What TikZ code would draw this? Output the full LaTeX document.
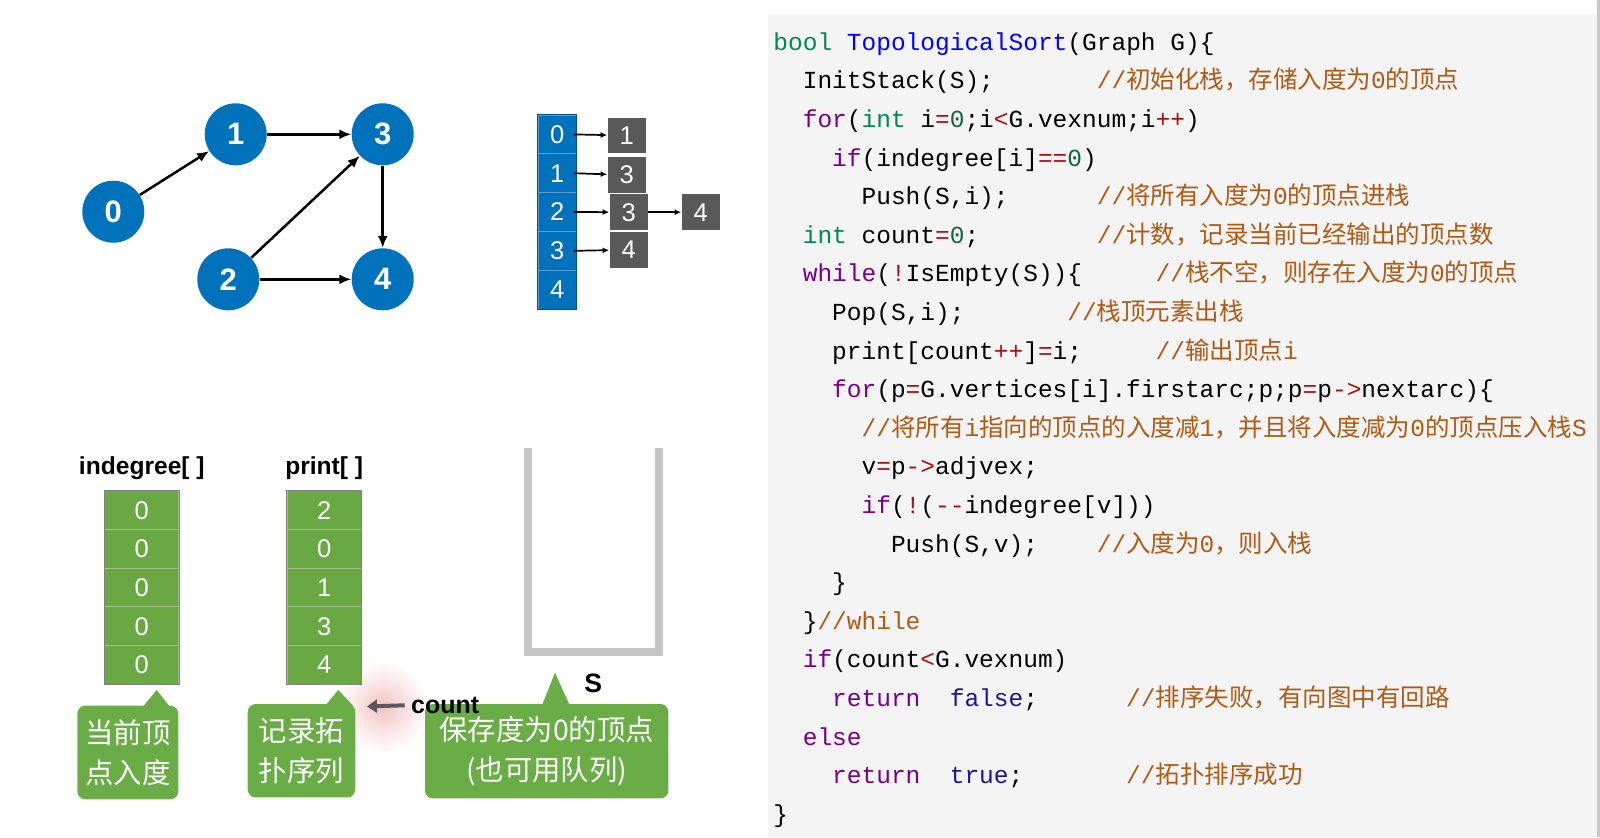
\documentclass[tikz,border=0pt]{standalone}
\usepackage{fontspec}
\setmainfont{Liberation Sans}
\newfontfamily\cjkfont{Noto Sans CJK SC}
\newfontfamily\codefont{Liberation Mono}
\usetikzlibrary{arrows.meta}

\definecolor{vtxblue}{HTML}{0072BC}
\definecolor{adjline}{HTML}{5E9BD0}
\definecolor{arcgray}{HTML}{595959}
\definecolor{arrgreen}{HTML}{6AA843}
\definecolor{arrline}{HTML}{A3BE92}
\definecolor{callgreen}{HTML}{6AAC46}
\definecolor{stackgray}{HTML}{C6C6C6}
\definecolor{panelbg}{HTML}{F4F4F4}
\definecolor{paneledge}{HTML}{C8C8C8}
\definecolor{kwcol}{HTML}{770088}
\definecolor{tycol}{HTML}{008855}
\definecolor{dfcol}{HTML}{0000FF}
\definecolor{atcol}{HTML}{221199}
\definecolor{numcol}{HTML}{116644}
\definecolor{opcol}{HTML}{AA1111}
\definecolor{cmcol}{HTML}{B05A14}
\definecolor{glowpink}{HTML}{F4C4C4}

\newcommand\ckw[1]{\textcolor{kwcol}{#1}}
\newcommand\cty[1]{\textcolor{tycol}{#1}}
\newcommand\cdf[1]{\textcolor{dfcol}{#1}}
\newcommand\catom[1]{\textcolor{atcol}{#1}}
\newcommand\cnum[1]{\textcolor{numcol}{#1}}
\newcommand\cop[1]{\textcolor{opcol}{#1}}
\newcommand\ccm[1]{\textcolor{cmcol}{#1}}
\newcommand\zh[1]{{\cjkfont #1}}

\tikzset{
  vtx/.style={circle,fill=vtxblue,minimum size=31pt,inner sep=0pt,text=white,
    font=\fontsize{15.5}{18}\selectfont\bfseries},
  arc/.style={-{Latex[length=6pt,width=5pt]},line width=1.25pt},
  adjcell/.style={rectangle,fill=vtxblue,draw=adjline,line width=0.5pt,
    minimum width=18.9pt,minimum height=19.4pt,inner sep=0pt,text=white,
    font=\fontsize{12.8}{14}\selectfont},
  arcbox/.style={rectangle,fill=arcgray,minimum width=19.2pt,minimum height=17.8pt,
    inner sep=0pt,text=white,font=\fontsize{12.8}{14}\selectfont},
  ptr/.style={-{Latex[length=3.3pt,width=3pt]},line width=0.85pt},
  arrcell/.style={rectangle,fill=arrgreen,draw=arrline,line width=0.5pt,
    minimum width=36.9pt,minimum height=19.33pt,inner sep=0pt,text=white,
    font=\fontsize{12.8}{14}\selectfont},
  title/.style={font=\fontsize{12.3}{14}\selectfont\bfseries,inner sep=0pt},
  callout/.style={rectangle,rounded corners=4pt,fill=callgreen,text=white,
    align=center,inner sep=0pt,font=\cjkfont\fontsize{14.2}{20}\selectfont},
  code/.style={anchor=mid west,inner sep=0pt,
    font=\codefont\fontsize{12.25}{14}\selectfont},
  comment/.style={code,text=cmcol}
}

\begin{document}
\begin{tikzpicture}[x=0.5pt,y=-0.5pt]
\useasboundingbox (0,0) rectangle (1600,837);

% code panel
\fill[panelbg] (768,14) rectangle (1597,837);
\fill[paneledge] (1597,0) rectangle (1600,837);

% the graph
\node[vtx] (v0) at (113.3,211.7) {0};
\node[vtx] (v1) at (235.7,134.3) {1};
\node[vtx] (v3) at (382.7,134.3) {3};
\node[vtx] (v2) at (228.3,279.3) {2};
\node[vtx] (v4) at (382.7,279.3) {4};
\draw[arc] (v0) -- (v1);
\draw[arc] (v1) -- (v3);
\draw[arc] (v2) -- (v3);
\draw[arc] (v3) -- (v4);
\draw[arc] (v2) -- (v4);

% adjacency list
\foreach \i in {0,...,4}
  \node[adjcell] (a\i) at (557.2,{134.4+38.8*\i}) {\i};
\draw[vtxblue!70!black,line width=0.5pt] (a0.north west) rectangle (a4.south east);
\node[arcbox] (e0) at (626.8,135.5) {1};
\node[arcbox] (e1) at (626.8,175) {3};
\node[arcbox] (e2) at (628.8,212.2) {3};
\node[arcbox] (e2b) at (700.8,212.2) {4};
\node[arcbox] (e3) at (628.8,249.8) {4};
\draw[ptr] ([xshift=-1.5pt]a0.east) -- (e0);
\draw[ptr] ([xshift=-1.5pt]a1.east) -- (e1);
\draw[ptr] ([xshift=-1.5pt]a2.east) -- (e2);
\draw[ptr] (e2) -- (e2b);
\draw[ptr] ([xshift=-1.5pt]a3.east) -- (e3);

% glow behind the count pointer
\shade[inner color=glowpink,outer color=white] (383,707) circle (46);

% indegree[] and print[]
\node[title] (tin) at (141.8,468) {indegree[ ]};
\node[title] (tpr) at (324.2,468) {print[ ]};
\foreach \v [count=\i from 0] in {0,0,0,0,0}
  \node[arrcell] (d\i) at (141.8,{510.3+38.66*\i}) {\v};
\foreach \v [count=\i from 0] in {2,0,1,3,4}
  \node[arrcell] (p\i) at (324.2,{510.3+38.66*\i}) {\v};
\draw[gray,line width=0.6pt] (d0.north west) rectangle (d4.south east);
\draw[gray,line width=0.6pt] (p0.north west) rectangle (p4.south east);

% stack S
\draw[stackgray,line width=4pt] (527.5,448) -- (527.5,652) -- (659.2,652) -- (659.2,448);
\node[title,font=\fontsize{13.3}{15}\selectfont\bfseries] (sname) at (593.3,683.3) {S};

% callouts
\node[callout,minimum width=50.5pt,minimum height=46.8pt] (c1) at (127.8,752.5) {当前顶\\点入度};
\fill[callgreen] (142.7,707) -- (156.7,690) -- (170,707) -- cycle;
\node[callout,minimum width=53.8pt,minimum height=46.65pt] (c2) at (301.5,750.7) {记录拓\\扑序列};
\fill[callgreen] (325,706) -- (338.3,690) -- (353.3,706) -- cycle;
\node[callout,minimum width=121.7pt,minimum height=47.2pt] (c3) at (546.7,751.2) {保存度为0的顶点\\(也可用队列)};
\fill[callgreen] (541.7,706) -- (555,672.7) -- (570,706) -- cycle;

% count
\node[title,anchor=mid west,font=\fontsize{12.5}{14}\selectfont\bfseries] (cnt) at (410.7,708) {count};
\coordinate (cntTip) at (367,706.5);
\draw[-{Triangle[length=5pt,width=6.5pt]},line width=2pt,arcgray] ([xshift=-3pt]cnt.west) -- (cntTip);

% the code
\node[code] (l1) at (773,45) {\cty{bool} \cdf{TopologicalSort}(Graph G)\{};
\node[code] (l2) at (802.4,83.6) {InitStack(S);};
\node[comment] (m2) at (1096.4,83.6) {//\zh{初始化栈，存储入度为}0\zh{的顶点}};
\node[code] (l3) at (802.4,122.2) {\ckw{for}(\cty{int} i\cop{=}\cnum{0};i\cop{<}G.vexnum;i\cop{++})};
\node[code] (l4) at (831.8,160.8) {\ckw{if}(indegree[i]\cop{==}\cnum{0})};
\node[code] (l5) at (861.2,199.4) {Push(S,i);};
\node[comment] (m5) at (1096.4,199.4) {//\zh{将所有入度为}0\zh{的顶点进栈}};
\node[code] (l6) at (802.4,238) {\cty{int} count\cop{=}\cnum{0};};
\node[comment] (m6) at (1096.4,238) {//\zh{计数，记录当前已经输出的顶点数}};
\node[code] (l7) at (802.4,276.6) {\ckw{while}(\cop{!}IsEmpty(S))\{};
\node[comment] (m7) at (1155.2,276.6) {//\zh{栈不空，则存在入度为}0\zh{的顶点}};
\node[code] (l8) at (831.8,315.2) {Pop(S,i);};
\node[comment] (m8) at (1067,315.2) {//\zh{栈顶元素出栈}};
\node[code] (l9) at (831.8,353.8) {print[count\cop{++}]\cop{=}i;};
\node[comment] (m9) at (1155.2,353.8) {//\zh{输出顶点}i};
\node[code] (l10) at (831.8,392.4) {\ckw{for}(p\cop{=}G.vertices[i].firstarc;p;p\cop{=}p\cop{->}nextarc)\{};
\node[comment] (m11) at (861.2,431) {//\zh{将所有}i\zh{指向的顶点的入度减}1\zh{，并且将入度减为}0\zh{的顶点压入栈}S};
\node[code] (l12) at (861.2,469.6) {v\cop{=}p\cop{->}adjvex;};
\node[code] (l13) at (861.2,508.2) {\ckw{if}(\cop{!}(\cop{\mbox{-}\mbox{-}}indegree[v]))};
\node[code] (l14) at (890.6,546.8) {Push(S,v);};
\node[comment] (m14) at (1096.4,546.8) {//\zh{入度为}0\zh{，则入栈}};
\node[code] (l15) at (831.8,585.4) {\}};
\node[code] (l16) at (802.4,624) {\}\ccm{//while}};
\node[code] (l17) at (802.4,662.6) {\ckw{if}(count\cop{<}G.vexnum)};
\node[code] (l18) at (831.8,701.2) {\ckw{return}\ \ \catom{false};};
\node[comment] (m18) at (1125.8,701.2) {//\zh{排序失败，有向图中有回路}};
\node[code] (l19) at (802.4,739.8) {\ckw{else}};
\node[code] (l20) at (831.8,778.4) {\ckw{return}\ \ \catom{true};};
\node[comment] (m20) at (1125.8,778.4) {//\zh{拓扑排序成功}};
\node[code] (l21) at (773,817) {\}};
\end{tikzpicture}
\end{document}
